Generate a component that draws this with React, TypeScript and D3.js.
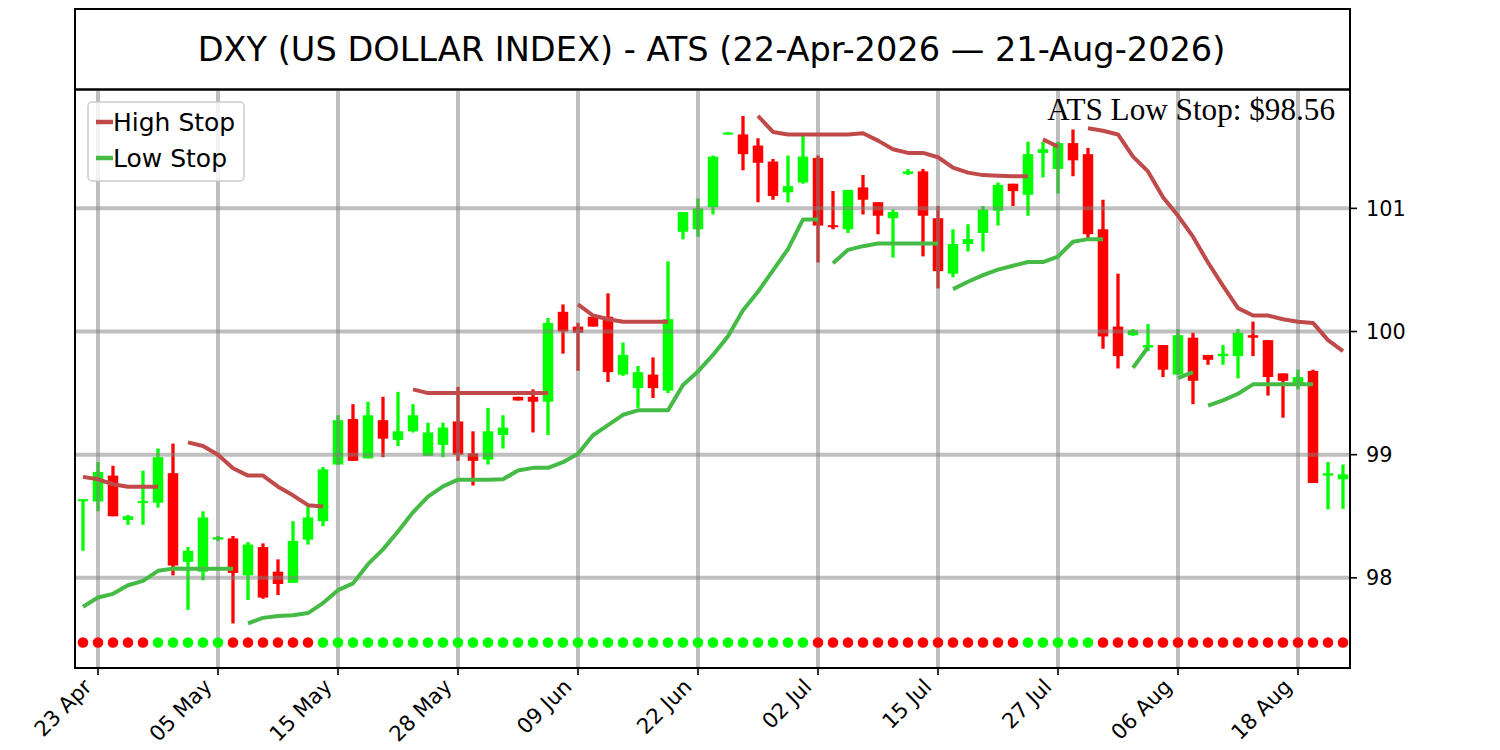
import { useEffect, useRef } from "react";
import * as d3 from "d3";

// OHLC per trading day (22-Apr-2026 .. 21-Aug-2026)
const openPrices = [
  98.625, 98.62, 98.83, 98.47, 98.61, 98.61, 98.85, 98.13, 98.05, 98.31,
  98.32, 98.02, 98.25, 98.05, 97.96, 98.31, 98.46, 98.92, 99.29, 98.97,
  99.28, 99.12, 99.19, 98.99, 99.08, 99.27, 99.01, 98.96, 99.16, 99.47,
  99.47, 99.43, 100.16, 100.04, 100.12, 100.12, 99.65, 99.54, 99.65, 99.52,
  100.81, 100.83, 101.01, 101.6, 101.6, 101.51, 101.38, 101.13, 101.21, 101.41,
  100.86, 100.83, 101.17, 101.05, 100.92, 101.28, 101.3, 100.92, 100.47, 100.71,
  100.8, 100.98, 101.2, 101.11, 101.45, 101.32, 101.53, 101.44, 100.83, 100.04,
  99.97, 99.87, 99.89, 99.65, 99.95, 99.81, 99.8, 99.8, 99.97, 99.93,
  99.66, 99.56, 99.68, 98.83, 98.8,
];
const highPrices = [
  98.64, 98.94, 98.91, 98.51, 98.87, 99.05, 99.09, 98.25, 98.54, 98.34,
  98.34, 98.29, 98.28, 98.15, 98.46, 98.6, 98.9, 99.32, 99.41, 99.43,
  99.47, 99.51, 99.41, 99.26, 99.26, 99.55, 99.19, 99.38, 99.32, 99.47,
  99.53, 100.11, 100.22, 100.07, 100.12, 100.31, 99.91, 99.72, 99.79, 100.57,
  100.97, 101.08, 101.43, 101.62, 101.75, 101.57, 101.4, 101.43, 101.6, 101.43,
  101.14, 101.15, 101.27, 101.05, 100.99, 101.32, 101.32, 101.02, 100.83, 100.87,
  101.02, 101.21, 101.2, 101.54, 101.54, 101.54, 101.64, 101.49, 101.07, 100.47,
  100.02, 100.06, 99.89, 100.02, 99.99, 99.81, 99.89, 100.02, 100.08, 99.93,
  99.66, 99.69, 99.69, 98.94, 98.92,
];
const lowPrices = [
  98.22, 98.54, 98.5, 98.43, 98.43, 98.57, 98.02, 97.74, 97.98, 98.3,
  97.63, 97.82, 97.83, 97.86, 97.96, 98.27, 98.42, 98.92, 98.95, 98.97,
  98.98, 99.07, 99.18, 98.99, 98.98, 98.95, 98.75, 98.92, 99.05, 99.44,
  99.18, 99.16, 99.82, 99.68, 100.04, 99.59, 99.64, 99.38, 99.46, 99.5,
  100.75, 100.77, 100.95, 101.6, 101.31, 101.05, 101.07, 101.05, 101.2, 100.56,
  100.83, 100.8, 100.95, 100.79, 100.6, 101.27, 100.61, 100.35, 100.44, 100.65,
  100.65, 100.86, 101.02, 100.94, 101.25, 101.12, 101.26, 100.76, 99.86, 99.7,
  99.965, 99.84, 99.63, 99.65, 99.41, 99.73, 99.73, 99.62, 99.8, 99.48,
  99.3, 99.53, 98.77, 98.555, 98.56,
];
const closePrices = [
  98.635, 98.86, 98.5, 98.5, 98.62, 98.98, 98.1, 98.22, 98.49, 98.33,
  98.04, 98.27, 97.84, 97.95, 98.3, 98.49, 98.88, 99.28, 98.95, 99.32,
  99.13, 99.19, 99.32, 99.18, 99.22, 99.0, 98.95, 99.19, 99.22, 99.44,
  99.43, 100.07, 100.0, 99.99, 100.04, 99.67, 99.81, 99.67, 99.54, 100.1,
  100.97, 101.0, 101.42, 101.615, 101.44, 101.37, 101.1, 101.18, 101.42, 100.86,
  100.85, 101.15, 101.07, 100.94, 100.97, 101.3, 100.94, 100.49, 100.71, 100.75,
  100.99, 101.19, 101.14, 101.44, 101.48, 101.53, 101.39, 100.79, 99.96, 99.8,
  100.01, 99.89, 99.69, 99.97, 99.6, 99.77, 99.82, 99.99, 99.95, 99.63,
  99.6, 99.63, 98.77, 98.85, 98.84,
];

// ATS stop levels (null where the stop is not drawn)
const highStop = [
  98.82, 98.8, 98.76, 98.74, 98.74, 98.74, null, 99.1, 99.07, 99.0,
  98.89, 98.83, 98.83, 98.74, 98.67, 98.59, 98.58, null, null, null,
  null, null, 99.53, 99.5, 99.5, 99.5, 99.5, 99.5, 99.5, 99.5,
  99.5, 99.5, null, 100.22, 100.13, 100.1, 100.08, 100.08, 100.08, 100.08,
  null, null, null, null, null, 101.75, 101.62, 101.6, 101.6, 101.6,
  101.6, 101.6, 101.61, 101.55, 101.48, 101.45, 101.45, 101.415, 101.33, 101.29,
  101.27, 101.265, 101.26, 101.26, 101.56, 101.5, null, 101.65, 101.63, 101.6,
  101.42, 101.3, 101.09, 100.94, 100.77, 100.56, 100.37, 100.19, 100.13, 100.13,
  100.1, 100.08, 100.07, 99.93, 99.84,
];
const lowStop = [
  97.765, 97.84, 97.87, 97.94, 97.976, 98.057, 98.075, 98.073, 98.073, 98.073,
  98.073, 97.63, 97.675, 97.69, 97.696, 97.714, 97.795, 97.9, 97.955, 98.111,
  98.231, 98.376, 98.532, 98.659, 98.743, 98.797, 98.797, 98.797, 98.8, 98.872,
  98.893, 98.893, 98.939, 99.008, 99.158, 99.24, 99.324, 99.36, 99.36, 99.36,
  99.565, 99.676, 99.81, 99.962, 100.172, 100.323, 100.497, 100.669, 100.91, 100.91,
  100.555, 100.663, 100.693, 100.714, 100.714, 100.714, 100.714, 100.714, 100.344, 100.404,
  100.458, 100.503, 100.534, 100.564, 100.564, 100.609, 100.729, 100.75, 100.75, null,
  99.706, 99.872, null, 99.622, 99.67, 99.399, 99.441, 99.495, 99.571, 99.571,
  99.571, 99.571, 99.571, null, null,
];
// each stop is drawn as separate runs [first, last]
const highStopSegments = [[0, 5], [7, 16], [22, 31], [33, 39], [45, 63], [64, 65], [67, 84]];
const lowStopSegments = [[0, 10], [11, 49], [50, 57], [58, 68], [70, 71], [73, 74], [75, 82]];

// signal dots along the bottom: 1 = green, 0 = red
const trend = [
  0, 0, 0, 0, 0, 1, 1, 1, 1, 1,
  0, 0, 0, 0, 0, 0, 1, 1, 1, 1,
  1, 1, 1, 1, 1, 1, 1, 1, 1, 1,
  1, 1, 1, 1, 1, 1, 1, 1, 1, 1,
  1, 1, 1, 1, 1, 1, 1, 1, 1, 0,
  0, 0, 0, 0, 0, 0, 0, 0, 0, 0,
  0, 0, 0, 1, 1, 1, 1, 1, 0, 0,
  0, 0, 0, 0, 0, 0, 0, 0, 0, 0,
  0, 0, 0, 0, 0,
];
const dotLevel = 97.475;

const tickIndex = [1, 9, 17, 25, 33, 41, 49, 57, 65, 73, 81];
const tickLabels = ["23 Apr", "05 May", "15 May", "28 May", "09 Jun", "22 Jun", "02 Jul", "15 Jul", "27 Jul", "06 Aug", "18 Aug"];
const yTicks = [98, 99, 100, 101];

const title = "DXY (US DOLLAR INDEX) - ATS (22-Apr-2026 \u2014 21-Aug-2026)";
const lastLowStop = lowPrices[lowPrices.length - 1];

const UP = "#00ff00";
const DOWN = "#ff0000";
const HIGH_COLOR = "#c04a4a";
const LOW_COLOR = "#45bb45";

export default function App() {
  const svgRef = useRef<SVGSVGElement | null>(null);

  useEffect(() => {
    const svg = d3.select(svgRef.current);
    svg.selectAll("*").remove();

    const W = 1500, H = 750;
    const left = 75, right = 1350, top = 89.5, bottom = 668;
    const font = "DejaVu Sans, sans-serif";

    svg.attr("width", W).attr("height", H);
    svg.append("rect").attr("width", W).attr("height", H).attr("fill", "white");

    const n = openPrices.length;
    const x = d3.scaleLinear().domain([-0.533, n - 0.533]).range([left, right]);
    const y = d3.scaleLinear().domain([97.268, 101.965]).range([bottom, top]);

    // title box
    svg.append("rect").attr("x", left).attr("y", 9).attr("width", right - left).attr("height", top - 9)
      .attr("fill", "white").attr("stroke", "black").attr("stroke-width", 2);
    svg.append("text").attr("x", (left + right) / 2 - 1).attr("y", 61).attr("text-anchor", "middle")
      .attr("font-family", font).attr("font-size", 33.6).attr("fill", "black").text(title);

    const g = svg.append("g");
    g.append("clipPath").attr("id", "plot-clip").append("rect")
      .attr("x", left).attr("y", top).attr("width", right - left).attr("height", bottom - top);
    const plot = g.append("g").attr("clip-path", "url(#plot-clip)");

    // candles
    const bw = 10.5;
    const candles = plot.append("g");
    d3.range(n).forEach(i => {
      const up = closePrices[i] >= openPrices[i];
      const color = up ? UP : DOWN;
      const cx = x(i);
      candles.append("line").attr("x1", cx).attr("x2", cx)
        .attr("y1", y(highPrices[i])).attr("y2", y(lowPrices[i]))
        .attr("stroke", color).attr("stroke-width", 3.3);
      const y0 = y(Math.max(openPrices[i], closePrices[i]));
      const y1 = y(Math.min(openPrices[i], closePrices[i]));
      const h = Math.max(y1 - y0, 2);
      candles.append("rect").attr("x", cx - bw / 2).attr("y", (y0 + y1) / 2 - h / 2)
        .attr("width", bw).attr("height", h).attr("fill", color);
    });

    // grid on top of candles
    const grid = plot.append("g").attr("stroke", "#808080").attr("stroke-opacity", 0.5).attr("stroke-width", 4);
    tickIndex.forEach(t => {
      grid.append("line").attr("x1", x(t)).attr("x2", x(t)).attr("y1", top).attr("y2", bottom);
    });
    yTicks.forEach(v => {
      grid.append("line").attr("x1", left).attr("x2", right).attr("y1", y(v)).attr("y2", y(v));
    });

    // stop lines
    const drawStops = (values: (number | null)[], segments: number[][], color: string) => {
      const path = d3.line<number>().x(i => x(i)).y(i => y(values[i] as number));
      segments.forEach(([a, b]) => {
        plot.append("path").datum(d3.range(a, b + 1)).attr("d", path)
          .attr("fill", "none").attr("stroke", color).attr("stroke-width", 4)
          .attr("stroke-linejoin", "round");
      });
    };
    drawStops(highStop, highStopSegments, HIGH_COLOR);
    drawStops(lowStop, lowStopSegments, LOW_COLOR);

    // trend dots
    plot.append("g").selectAll("circle").data(trend).join("circle")
      .attr("cx", (_, i) => x(i)).attr("cy", y(dotLevel)).attr("r", 5.3)
      .attr("fill", d => (d ? UP : DOWN));

    // frame
    g.append("rect").attr("x", left).attr("y", top).attr("width", right - left).attr("height", bottom - top)
      .attr("fill", "none").attr("stroke", "black").attr("stroke-width", 2);

    // x axis
    const xAxis = g.append("g");
    tickIndex.forEach((t, k) => {
      xAxis.append("line").attr("x1", x(t)).attr("x2", x(t)).attr("y1", bottom).attr("y2", bottom + 7)
        .attr("stroke", "black").attr("stroke-width", 1.6);
      xAxis.append("text").attr("transform", `translate(${x(t) - 5},${bottom + 20}) rotate(-45)`)
        .attr("text-anchor", "end").attr("font-family", font).attr("font-size", 21.2)
        .attr("fill", "black").text(tickLabels[k]);
    });

    // y axis on the right
    const yAxis = g.append("g");
    yTicks.forEach(v => {
      yAxis.append("line").attr("x1", right).attr("x2", right + 7).attr("y1", y(v)).attr("y2", y(v))
        .attr("stroke", "black").attr("stroke-width", 1.6);
      yAxis.append("text").attr("x", right + 16).attr("y", y(v)).attr("dy", "0.36em")
        .attr("font-family", font).attr("font-size", 20.8).attr("fill", "black").text(String(v));
    });

    // annotation
    g.append("text").attr("x", 1335).attr("y", 120).attr("text-anchor", "end")
      .attr("font-family", "Liberation Serif, Times New Roman, serif").attr("font-size", 31.2)
      .attr("fill", "black").text(`ATS Low Stop: $${lastLowStop.toFixed(2)}`);

    // legend
    const legend = g.append("g");
    legend.append("rect").attr("x", 88).attr("y", 102).attr("width", 156).attr("height", 79).attr("rx", 4)
      .attr("fill", "white").attr("fill-opacity", 0.8).attr("stroke", "#cccccc").attr("stroke-width", 1.5);
    [["High Stop", HIGH_COLOR], ["Low Stop", LOW_COLOR]].forEach(([label, color], k) => {
      const ly = 122 + k * 36;
      legend.append("line").attr("x1", 96).attr("x2", 113).attr("y1", ly).attr("y2", ly)
        .attr("stroke", color).attr("stroke-width", 4.5);
      legend.append("text").attr("x", 113).attr("y", ly + 8.7).attr("font-family", font)
        .attr("font-size", 25).attr("fill", "black").text(label);
    });
  }, []);

  return (
    <div style={{ position: "absolute", left: 0, top: 0 }}>
      <svg ref={svgRef} style={{ display: "block" }}></svg>
    </div>
  );
}
